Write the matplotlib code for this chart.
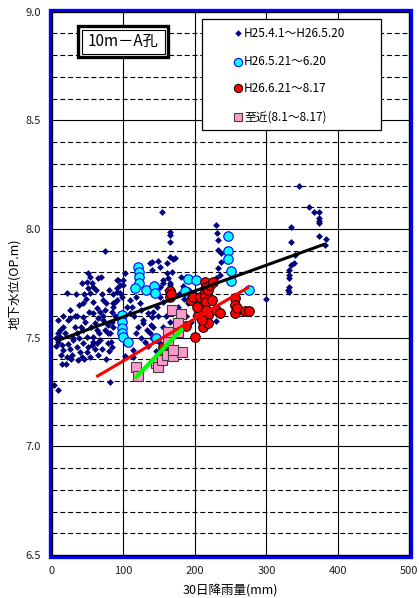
import matplotlib
matplotlib.use("Agg")
import matplotlib.pyplot as plt
from matplotlib.patches import Rectangle

plt.rcParams['font.family'] = ['Noto Sans CJK JP', 'DejaVu Sans']

# ---- data: 30-day rainfall (mm) vs groundwater level (OP.m) ----
# H25.4.1 - H26.5.20
period1_rain = [3, 8, 5, 9, 11, 11, 14, 16, 21, 9, 5, 12, 15, 18, 22, 25, 28, 30, 16, 22, 9, 14, 20, 26, 32,
                21, 25, 25,
                32, 35, 30, 35, 39, 42, 37,
                44, 44, 46, 44, 49, 44, 51, 49, 53,
                51, 53, 49, 56, 51, 58, 53,
                58, 63, 58, 67, 65, 60, 63, 58, 63, 56, 67,
                72, 74, 72, 79, 74, 81, 79, 84,
                74,
                91, 95, 91, 98, 88, 86, 91, 84,
                102, 100, 102, 81,
                65, 93, 91, 86, 114,
                35, 38, 40, 45, 48, 42, 38, 52, 55, 58, 60, 65, 45, 33,
                62, 68, 70, 75, 72, 80, 85, 88, 78, 82, 86, 66, 70, 76, 80, 84, 25,
                154, 165, 165, 165, 170, 140, 149, 151, 161, 163, 165, 156, 168,
                165, 172, 161, 137, 140, 168, 156, 165, 151, 161, 151, 156, 147, 135, 140, 128, 133, 137, 142,
                125, 123, 109, 118, 100, 95, 91, 105, 109, 114,
                115, 120, 125, 130, 135, 140, 145, 118, 128, 138, 148, 155, 150, 142, 112, 160, 165, 158,
                180, 183, 178, 185, 190, 182, 188, 176, 192, 200, 205, 210, 195, 188, 178,
                230, 231, 233, 233, 233, 230, 236, 236, 235, 230, 300,
                345, 359, 366, 373, 373, 373, 373, 334, 334, 373, 383, 382, 340, 338, 334, 331, 331, 332, 331, 332, 330]
period1_level = [7.28, 7.26, 7.50, 7.48, 7.535, 7.504, 7.466, 7.443, 7.412, 7.52, 7.46, 7.42, 7.55, 7.52, 7.47, 7.45, 7.42, 7.50, 7.60, 7.58, 7.58, 7.38, 7.38, 7.40, 7.60,
                 7.704, 7.627, 7.589,
                 7.55, 7.52, 7.489, 7.458, 7.435, 7.412, 7.397,
                 7.658, 7.596, 7.573, 7.535, 7.504, 7.474, 7.458, 7.435, 7.412,
                 7.796, 7.78, 7.757, 7.75, 7.727, 7.735, 7.704,
                 7.665, 7.635, 7.612, 7.619, 7.589, 7.566, 7.535, 7.504, 7.474, 7.466, 7.489,
                 7.673, 7.627, 7.581, 7.558, 7.535, 7.52, 7.474, 7.458,
                 7.90,
                 7.765, 7.742, 7.711, 7.688, 7.665, 7.642, 7.596, 7.573,
                 7.796, 7.765, 7.415, 7.297,
                 7.773, 7.765, 7.727, 7.658, 7.412,
                 7.60, 7.65, 7.55, 7.70, 7.68, 7.75, 7.50, 7.62, 7.55, 7.48, 7.45, 7.42, 7.40, 7.70,
                 7.72, 7.78, 7.70, 7.66, 7.60, 7.72, 7.70, 7.60, 7.52, 7.48, 7.55, 7.52, 7.45, 7.40, 7.44, 7.62, 7.405,
                 8.08, 7.988, 7.942, 7.87, 7.861, 7.85, 7.854, 7.826, 7.796, 7.773, 7.742, 7.75, 7.719,
                 7.973, 7.865, 7.842, 7.842, 7.811, 7.803, 7.765, 7.75, 7.735, 7.719, 7.688, 7.665, 7.642, 7.612, 7.596, 7.566, 7.535, 7.52, 7.55,
                 7.627, 7.658, 7.673, 7.688, 7.742, 7.704, 7.673, 7.642, 7.612, 7.443,
                 7.60, 7.55, 7.50, 7.48, 7.46, 7.50, 7.44, 7.52, 7.58, 7.56, 7.60, 7.55, 7.48, 7.62, 7.64, 7.60, 7.57, 7.50,
                 7.78, 7.74, 7.70, 7.68, 7.66, 7.62, 7.60, 7.64, 7.72, 7.70, 7.62, 7.60, 7.57, 7.78, 7.55,
                 8.018, 7.98, 7.949, 7.903, 7.819, 7.773, 7.888, 7.85, 7.788, 7.578, 7.676,
                 8.198, 8.103, 8.08, 8.08, 8.049, 8.038, 8.029, 8.008, 7.942, 7.969, 7.953, 7.926, 7.88, 7.842, 7.834, 7.811, 7.788, 7.773, 7.735, 7.712, 7.72]

# H26.5.21 - 6.20
period2_rain = [121, 122, 122, 122, 116, 132, 143, 144, 97.5, 97.5, 97.5, 97.5, 99, 107, 146,
                191, 202, 186, 216, 246, 246, 246, 251, 251, 276]
period2_level = [7.826, 7.802, 7.779, 7.752, 7.729, 7.719, 7.738, 7.707, 7.604, 7.573, 7.543, 7.52, 7.503, 7.481, 7.497,
                 7.769, 7.765, 7.716, 7.711, 7.969, 7.897, 7.862, 7.807, 7.761, 7.719]

# H26.6.21 - 8.17
period3_rain = [165, 165, 166, 155, 155, 187, 195, 200, 197, 204, 203, 207, 211, 214, 214, 214, 216, 216,
                216, 216, 219, 219, 219, 221, 226, 230, 235, 256, 256, 256, 259, 270, 276, 224, 210]
period3_level = [7.715, 7.687, 7.701, 7.457, 7.434, 7.554, 7.673, 7.504, 7.687, 7.605, 7.641, 7.687, 7.549,
                 7.756, 7.71, 7.687, 7.733, 7.664, 7.627, 7.581, 7.719, 7.605, 7.567, 7.742, 7.756, 7.627,
                 7.613, 7.682, 7.65, 7.613, 7.636, 7.623, 7.623, 7.673, 7.581]

# latest (8.1 - 8.17)
recent_rain = [118, 121, 145.5, 149, 153.5, 160.5, 170, 181.5, 163, 163, 177, 167.5, 180.5, 177, 170]
recent_level = [7.364, 7.324, 7.385, 7.364, 7.397, 7.42, 7.416, 7.435, 7.481, 7.527, 7.527, 7.627, 7.609, 7.566, 7.443]

# trend lines (end points)
trend_all_x = [7, 382]
trend_all_y = [7.486, 7.931]
trend_summer_x = [62, 276]
trend_summer_y = [7.32, 7.734]
trend_recent_x = [116, 183]
trend_recent_y = [7.313, 7.543]

legend_labels = ['H25.4.1～H26.5.20', 'H26.5.21～6.20', 'H26.6.21～8.17', '至近(8.1～8.17)']
x_ticks = [0, 100, 200, 300, 400, 500]
y_ticks = [6.5, 7.0, 7.5, 8.0, 8.5, 9.0]

NAVY = '#000080'

fig = plt.figure(figsize=(4.19, 5.98), dpi=100)
ax = fig.add_axes([0.1241, 0.0719, 0.8527, 0.9085])
ax.set_xlim(0, 500)
ax.set_ylim(6.5, 9.0)

# grid: solid at major steps, dashed every 0.1
for v in [100, 200, 300, 400]:
    ax.axvline(v, color='black', lw=0.8, zorder=1)
for i in range(1, 25):
    yv = 6.5 + i * 0.1
    if i % 5 == 0:
        ax.axhline(yv, color='black', lw=0.8, zorder=1)
    else:
        ax.axhline(yv, color='black', lw=0.8, ls=(0, (4.5, 2.5)), zorder=1)

ax.scatter(period1_rain, period1_level, marker='D', s=12, color=NAVY, linewidths=0, zorder=3)
ax.plot(period2_rain, period2_level, ls='none', marker='o', ms=6.8, mfc='#00FFFF', mec='#0000FF', mew=0.8, zorder=4)
ax.plot(period3_rain, period3_level, ls='none', marker='o', ms=7.0, mfc='#FF0000', mec='black', mew=0.7, zorder=5)
ax.plot(recent_rain, recent_level, ls='none', marker='s', ms=7.8, mfc='#FF99CC', mec='#404040', mew=0.8, zorder=6)

ax.plot(trend_all_x, trend_all_y, color='black', lw=2.2, solid_capstyle='butt', zorder=7)
ax.plot(trend_summer_x, trend_summer_y, color='#FF0000', lw=2.2, solid_capstyle='butt', zorder=7)
ax.plot(trend_recent_x, trend_recent_y, color='#00FF00', lw=3.0, solid_capstyle='butt', zorder=8)

# frame: black axis border inside a blue outline
for s in ax.spines.values():
    s.set_visible(False)
dx, dy = 1.6 / 357.3, 1.6 / 543.3
ax.add_patch(Rectangle((-dx, -dy), 1 + 2 * dx, 1 + 2 * dy, transform=ax.transAxes,
                       fill=False, edgecolor='#0000FF', lw=2.4, clip_on=False, zorder=20))
ax.add_patch(Rectangle((0, 0), 1, 1, transform=ax.transAxes,
                       fill=False, edgecolor='black', lw=1.0, clip_on=False, zorder=21))

ax.set_xticks(x_ticks)
ax.set_yticks(y_ticks)
ax.set_xticklabels([str(v) for v in x_ticks])
ax.set_yticklabels([f'{v:.1f}' for v in y_ticks])
ax.tick_params(axis='both', length=0, labelsize=8, colors='#202020')
ax.tick_params(axis='x', pad=8)
ax.tick_params(axis='y', pad=8)

ax.set_xlabel('30日降雨量(mm)', fontsize=9)
ax.set_ylabel('地下水位(OP.m)', fontsize=9)
ax.xaxis.set_label_coords(0.5, -0.066)
ax.yaxis.set_label_coords(-0.106, 0.5)
ax.xaxis.label.set_va('center')
ax.yaxis.label.set_va('center')

# legend box
lx0, lx1 = (202 - 52) / 357.3, (381 - 52) / 357.3
ly0, ly1 = (555 - 130) / 543.3, (555 - 19) / 543.3
ax.add_patch(Rectangle((lx0, ly0), lx1 - lx0, ly1 - ly0, transform=ax.transAxes,
                       facecolor='white', edgecolor='black', lw=0.9, clip_on=False, zorder=30))
mk_x = (238 - 52) / 357.3
tx_x = (244 - 52) / 357.3
rows = [(555 - 33.3) / 543.3, (555 - 61.7) / 543.3, (555 - 88.3) / 543.3, (555 - 116.7) / 543.3]
styles = [dict(marker='D', ms=3.3, mfc=NAVY, mec=NAVY, mew=0),
          dict(marker='o', ms=6.0, mfc='#00FFFF', mec='#0000FF', mew=0.8),
          dict(marker='o', ms=6.0, mfc='#FF0000', mec='black', mew=0.7),
          dict(marker='s', ms=5.8, mfc='#FF99CC', mec='#404040', mew=0.8)]
for ry, st, lab in zip(rows, styles, legend_labels):
    ax.plot([mk_x], [ry], ls='none', transform=ax.transAxes, clip_on=False, zorder=31, **st)
    ax.text(tx_x, ry, lab, transform=ax.transAxes, fontsize=8.5, va='center', ha='left', zorder=32)

# well name box with double border
ox0, oy0, ow, oh = 78 / 419, 1 - 57 / 598, 90 / 419, 31 / 598
fig.patches.append(Rectangle((ox0, oy0), ow, oh, transform=fig.transFigure,
                             facecolor='white', edgecolor='black', lw=2.4, zorder=40))
ix, iy = 3.5 / 419, 3.5 / 598
fig.patches.append(Rectangle((ox0 + ix, oy0 + iy), ow - 2 * ix, oh - 2 * iy, transform=fig.transFigure,
                             fill=False, edgecolor='black', lw=0.8, zorder=41))
fig.text(123 / 419, 1 - 41.5 / 598, '10m－A孔', fontsize=11, ha='center', va='center', zorder=42)

fig.savefig('out.png', dpi=100)
